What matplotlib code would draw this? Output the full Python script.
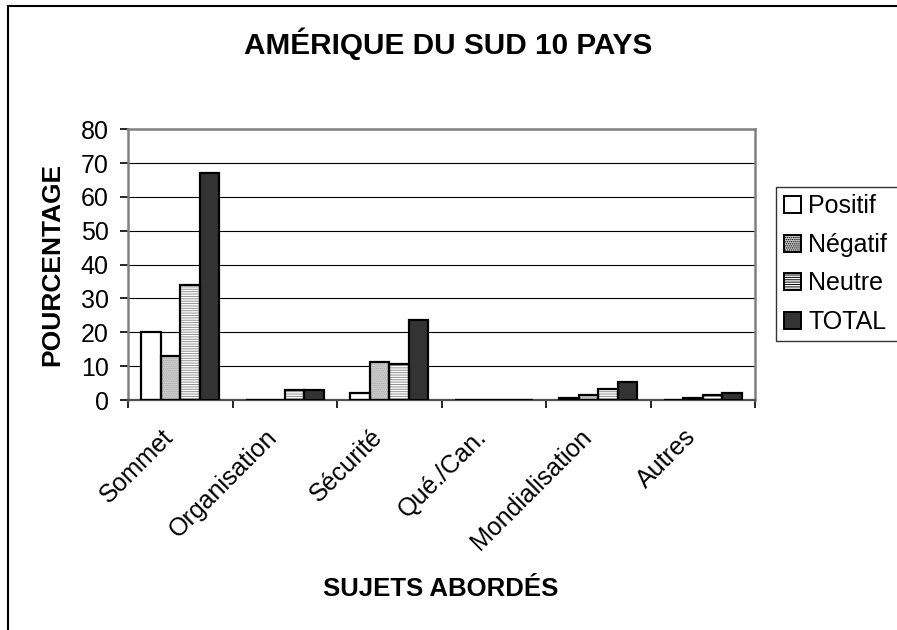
import matplotlib
matplotlib.use("Agg")
import matplotlib.pyplot as plt
import numpy as np
from matplotlib.patches import Rectangle, Patch
from matplotlib.transforms import ScaledTranslation

plt.rcParams['font.family'] = ['Liberation Sans', 'DejaVu Sans']
plt.rcParams['hatch.linewidth'] = 0.7

# ---- data ----
categories = ["Sommet", "Organisation", "Sécurité", "Qué./Can.", "Mondialisation", "Autres"]
series_names = ["Positif", "Négatif", "Neutre", "TOTAL"]
positif = [20, 0, 2, 0, 0.5, 0]
negatif = [13, 0, 11.3, 0, 1.5, 0.5]
neutre = [34, 3, 10.5, 0, 3.2, 1.5]
total = [67, 3, 23.7, 0, 5.2, 2]
y_ticks = [0, 10, 20, 30, 40, 50, 60, 70, 80]

title = "AMÉRIQUE DU SUD 10 PAYS"
xlabel = "SUJETS ABORDÉS"
ylabel = "POURCENTAGE"

W, H = 897, 630
fig = plt.figure(figsize=(W / 100, H / 100), dpi=100)
ax = fig.add_axes([128 / W, 1 - 400 / H, (755 - 128) / W, (400 - 129.3) / H])

styles = [
    dict(facecolor="white", hatch=None, hcolor="black"),
    dict(facecolor="#cfcfcf", hatch="........", hcolor="#a8a8a8"),
    dict(facecolor="white", hatch="-------", hcolor="#909090"),
    dict(facecolor="#333333", hatch=None, hcolor="black"),
]

x = np.arange(len(categories)) + 0.5
bw = 0.187
all_series = [positif, negatif, neutre, total]
handles = []
for i, (vals, st, name) in enumerate(zip(all_series, styles, series_names)):
    offs = (i - 1.5) * bw
    ax.bar(x + offs, vals, width=bw, facecolor=st["facecolor"],
           edgecolor=st["hcolor"], hatch=st["hatch"], linewidth=0, zorder=2)
    ax.bar(x + offs, vals, width=bw, facecolor="none", edgecolor="black",
           linewidth=1.6, zorder=3)
    handles.append(Patch(facecolor=st["facecolor"], edgecolor="black",
                         hatch=st["hatch"], linewidth=1.4, label=name))

ax.set_xlim(0, len(categories))
ax.set_ylim(0, 80)
ax.set_yticks(y_ticks)
ax.set_yticklabels([str(v) for v in y_ticks], fontsize=18)
ax.yaxis.grid(True, color="black", linewidth=0.8)
ax.set_axisbelow(True)

ax.set_xticks(np.arange(len(categories) + 1))
ax.set_xticklabels([])
ax.set_xticks(x, minor=True)
ax.set_xticklabels(categories, minor=True, rotation=45, ha="right",
                   va="center", rotation_mode="anchor", fontsize=18)
ax.tick_params(axis="x", which="minor", length=0, pad=24)
ax.tick_params(axis="x", which="major", length=6, width=1.2, direction="out", color="black")
ax.tick_params(axis="y", which="major", length=6, width=1.2, direction="out", pad=8, color="black")
for lab in ax.get_xticklabels(minor=True):
    lab.set_transform(lab.get_transform() + ScaledTranslation(-11 / 100, 0, fig.dpi_scale_trans))

for side in ["left", "right", "top"]:
    ax.spines[side].set_color("#808080")
    ax.spines[side].set_linewidth(1.8)
ax.spines["bottom"].set_color("#505050")
ax.spines["bottom"].set_linewidth(1.6)

fig.text(0.5, 1 - 44 / H, title, ha="center", va="center", fontsize=21.4, fontweight="bold")
fig.text(441 / W, 1 - 589 / H, xlabel, ha="center", va="center", fontsize=18.5, fontweight="bold")
fig.text(52 / W, 1 - 264 / H, ylabel, ha="center", va="center", rotation=90,
         fontsize=19, fontweight="bold")

leg = fig.legend(handles=handles, loc="upper left", mode="expand",
                 bbox_to_anchor=(776 / W, 1 - 342 / H, 130 / W, 155 / H),
                 bbox_transform=fig.transFigure,
                 fontsize=18, frameon=True, fancybox=False, shadow=False,
                 handlelength=0.68, handleheight=0.68, handletextpad=0.3,
                 labelspacing=0.58, borderpad=0.3, borderaxespad=0)
leg.get_frame().set_edgecolor("black")
leg.get_frame().set_linewidth(1.0)

# outer chart border
fig.add_artist(Rectangle((8 / W, -0.1), 1.2, 1 - 6 / H + 0.1, transform=fig.transFigure,
                         fill=False, edgecolor="black", linewidth=1.5))

fig.savefig("out.png", dpi=100)
